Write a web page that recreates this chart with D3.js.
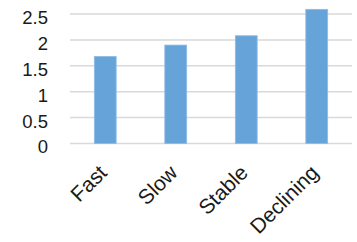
<!DOCTYPE html>
<html lang="en">
<head>
<meta charset="UTF-8">
<script src="https://d3js.org/d3.v7.min.js"></script>
<style>
  body { margin: 0; background: #fff; }
  svg { display: block; font-family: 'Liberation Sans', Arial, sans-serif; }
</style>
</head>
<body>
<div id="chart"></div>
<script>
// data
var categories = ['Fast', 'Slow', 'Stable', 'Declining'];
var values = [1.68, 1.9, 2.08, 2.59];
var yTicks = [0, 0.5, 1, 1.5, 2, 2.5];

var svgWidth = 357, svgHeight = 242;
var plotLeft = 70, plotRight = 352, plotTop = 14, plotBottom = 143.5;

var svg = d3.select('#chart').append('svg')
    .attr('width', svgWidth)
    .attr('height', svgHeight);

var x = d3.scaleBand()
    .domain(categories)
    .range([plotLeft, plotRight])
    .paddingInner(0.69)
    .paddingOuter(0.345);

var y = d3.scaleLinear()
    .domain([0, 2.5])
    .range([plotBottom, plotTop]);

// gridlines
svg.append('g')
    .selectAll('line')
    .data(yTicks)
    .enter().append('line')
    .attr('x1', plotLeft)
    .attr('x2', plotRight)
    .attr('y1', d => y(d))
    .attr('y2', d => y(d))
    .attr('stroke', '#d9d9d9')
    .attr('stroke-width', 1.5);

// y labels
svg.append('g')
    .selectAll('text')
    .data(yTicks)
    .enter().append('text')
    .attr('x', 48)
    .attr('y', d => y(d) + 3.5)
    .attr('dy', '0.35em')
    .attr('text-anchor', 'end')
    .attr('font-size', 18.5)
    .attr('fill', '#1a1a1a')
    .text(d => d);

// bars
svg.append('g')
    .selectAll('rect')
    .data(values)
    .enter().append('rect')
    .attr('x', (d, i) => x(categories[i]))
    .attr('width', x.bandwidth())
    .attr('y', d => y(d))
    .attr('height', d => y(0) - y(d))
    .attr('fill', '#66a3d9')
    .attr('stroke', '#8dbbe6')
    .attr('stroke-width', 0.8);

// x labels
svg.append('g')
    .selectAll('text')
    .data(categories)
    .enter().append('text')
    .attr('transform', d => 'translate(' + (x(d) + x.bandwidth() / 2 + 3) + ',' + 174 + ') rotate(-45)')
    .attr('text-anchor', 'end')
    .attr('font-size', 21)
    .attr('fill', '#1a1a1a')
    .text(d => d);
</script>
</body>
</html>
